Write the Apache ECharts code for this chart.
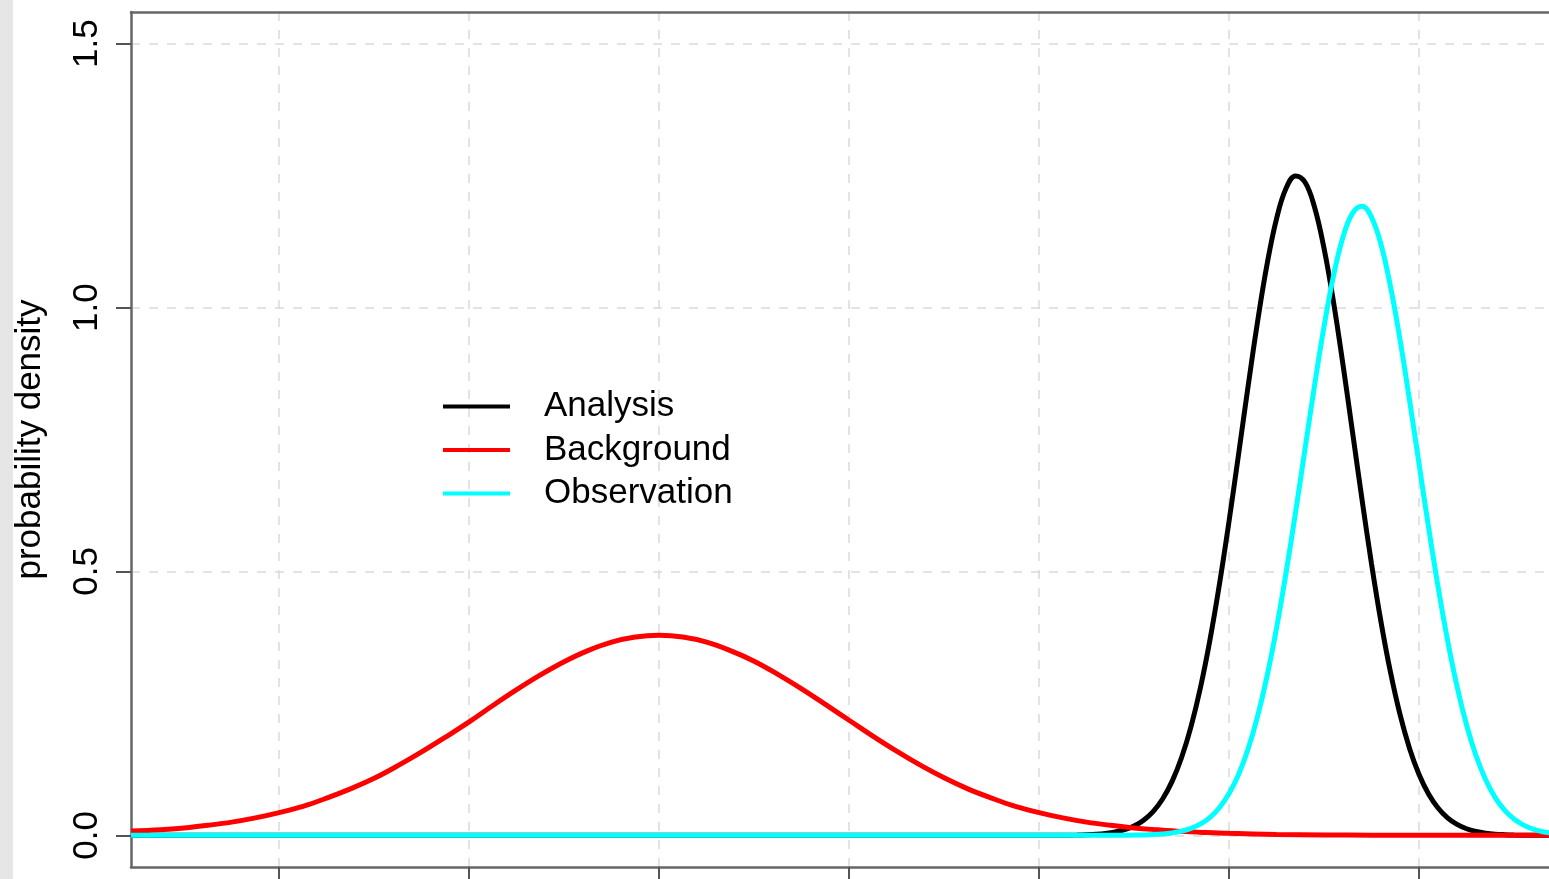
<!DOCTYPE html>
<html>
<head>
<meta charset="utf-8">
<script src="https://cdn.jsdelivr.net/npm/echarts@6/dist/echarts.min.js"></script>
<style>
html,body{margin:0;padding:0;background:#fff;}
#chart{width:1549px;height:879px;}
</style>
</head>
<body>
<div id="chart"></div>
<script>
// ---- data ----
const seriesNames = ['Analysis', 'Background', 'Observation'];
const seriesColors = ['#000000', '#ff0000', '#00ffff'];

const bgX = [-2.78,-2.625,-2.5,-2.375,-2.25,-2.125,-2,-1.875,-1.75,-1.625,-1.5,-1.375,-1.25,-1.125,-1,-0.875,-0.75,-0.625,-0.5,-0.375,-0.25,-0.125,
  0,0.125,0.25,0.375,0.5,0.625,0.75,0.875,1,1.125,1.25,1.375,1.5,1.625,1.75,1.875,2,2.125,2.25,2.375,2.5,2.625,2.75,2.875,3,3.25,3.5,3.75,4,4.4,4.8];
const bgY = [0.008,0.0105,0.014,0.019,0.025,0.033,0.043,0.055,0.0705,0.088,0.108,0.132,0.158,0.186,0.215,0.246,0.276,0.304,0.329,0.350,0.366,0.3757,
  0.379,0.3757,0.366,0.350,0.330,0.305,0.2775,0.248,0.218,0.188,0.1595,0.133,0.109,0.088,0.0705,0.055,0.043,0.033,0.025,0.019,0.014,0.0105,0.0075,0.0054,0.0038,0.0018,0.0008,0.0003,0.0001,0,0];

const anX = [-2.78,0,1.5,2.0,2.1,2.2,2.25,2.3,2.35,2.4,2.45,2.5,2.55,2.6,2.65,2.7,2.75,2.8,2.85,2.9,2.95,3.0,3.05,3.1,3.15,3.2,3.25,3.3,3.35,
  3.4,3.45,3.5,3.55,3.6,3.65,3.7,3.75,3.8,3.85,3.9,3.95,4.0,4.05,4.1,4.15,4.2,4.25,4.3,4.35,4.4,4.45,4.5,4.6,4.7,4.8];
const anY = [0,0,0,0,0.0001,0.0005,0.0010,0.0019,0.0035,0.0062,0.0106,0.0177,0.0287,0.0450,0.0689,0.1022,0.1474,0.2065,0.2810,0.3716,0.4773,0.5956,0.7221,0.8506,0.9734,1.082,1.1685,1.226,1.2495,
  1.2373,1.190,1.112,1.010,0.8909,0.7634,0.6355,0.5140,0.4038,0.3083,0.2286,0.1647,0.1152,0.0783,0.0518,0.0332,0.0207,0.0125,0.0074,0.0042,0.0023,0.0013,0.0007,0.0002,0,0];

const obX = [-2.78,0,1.5,2.0,2.3,2.4,2.45,2.5,2.55,2.6,2.65,2.7,2.75,2.8,2.85,2.9,2.95,3.0,3.05,3.1,3.15,3.2,3.25,3.3,3.35,3.4,3.45,3.5,3.55,3.6,3.65,
  3.7,3.75,3.8,3.85,3.9,3.95,4.0,4.05,4.1,4.15,4.2,4.25,4.3,4.35,4.4,4.45,4.5,4.55,4.6,4.65,4.7,4.75,4.8];
const obY = [0,0,0,0,0,0.0001,0.0002,0.0004,0.00075,0.0014,0.0026,0.0046,0.0079,0.0132,0.0216,0.0342,0.0528,0.0792,0.1154,0.1635,0.2253,0.3017,0.3929,0.4975,0.6122,0.7326,0.8525,0.9643,1.0607,1.134,1.179,
  1.192,1.171,1.119,1.0393,0.9386,0.8242,0.7036,0.5840,0.4712,0.3697,0.2820,0.2091,0.1508,0.1057,0.0720,0.0477,0.0308,0.0193,0.0117,0.0069,0.0040,0.0022,0.0012];

const xTicks = [-2,-1,0,1,2,3,4];
const yTicks = [0,0.5,1,1.5];
const yTickLabels = ['0.0','0.5','1.0','1.5'];
const yTitle = 'probability density';

// ---- chart ----
function pairs(xs, ys){ return xs.map((x,i)=>[x, ys[i]]); }
const FONT = "'Liberation Sans', Arial, Helvetica, sans-serif";
const chart = echarts.init(document.getElementById('chart'), null, {renderer:'canvas'});

const seriesData = [pairs(anX, anY), pairs(bgX, bgY), pairs(obX, obY)];
const FRAME = {color: '#666666', width: 2.5};

chart.setOption({
  animation: false,
  backgroundColor: '#ffffff',
  graphic: [{
    type: 'rect', left: 0, top: 0, z: -10,
    shape: {width: 13, height: 879},
    style: {fill: '#e6e6e6'}
  }],
  grid: {
    left: 131, top: 12, bottom: 12, right: 0,
    show: false
  },
  legend: {
    orient: 'vertical',
    left: 443, top: 389, padding: 0,
    icon: 'rect',
    itemWidth: 67, itemHeight: 4, itemGap: 8.5,
    data: seriesNames.map((n, i) => ({name: n, itemStyle: {color: seriesColors[i]}})),
    textStyle: {fontFamily: FONT, fontSize: 35, color: '#000', lineHeight: 35, padding: [0,0,0,29]}
  },
  xAxis: [{
    type: 'value',
    min: -2.78, max: 4.684,
    splitNumber: 15,
    axisLine: {show: true, onZero: false, lineStyle: FRAME},
    axisTick: {show: true, customValues: xTicks, length: 16, lineStyle: {color: '#555', width: 2}},
    axisLabel: {show: false},
    splitLine: {show: true, lineStyle: {color: '#dadada', width: 1.5, type: [9, 9]}}
  }, {
    type: 'value', position: 'top',
    min: -2.78, max: 4.684,
    axisLine: {show: true, onZero: false, lineStyle: FRAME},
    axisTick: {show: false}, axisLabel: {show: false}, splitLine: {show: false}
  }],
  yAxis: {
    type: 'value',
    min: -0.06, max: 1.56,
    splitNumber: 16,
    name: yTitle,
    nameLocation: 'middle',
    nameGap: 83,
    nameTextStyle: {fontFamily: FONT, fontSize: 35, color: '#000'},
    axisLine: {show: true, onZero: false, lineStyle: FRAME},
    axisTick: {show: true, customValues: yTicks, length: 15, lineStyle: {color: '#555', width: 2}},
    axisLabel: {
      show: true, customValues: yTicks, rotate: 90, margin: 26,
      fontFamily: FONT, fontSize: 35, color: '#000',
      formatter: function(v){ const i = yTicks.indexOf(v); return i >= 0 ? yTickLabels[i] : ''; }
    },
    splitLine: {show: true, lineStyle: {color: '#dadada', width: 1.5, type: [9, 9]}}
  },
  series: seriesNames.map((n, i) => ({
    name: n,
    type: 'line',
    xAxisIndex: 0,
    data: seriesData[i],
    showSymbol: false,
    symbol: 'none',
    smooth: 0.4,
    lineStyle: {color: seriesColors[i], width: 5},
    itemStyle: {color: seriesColors[i]},
    emphasis: {disabled: true}
  }))
});
</script>
</body>
</html>
